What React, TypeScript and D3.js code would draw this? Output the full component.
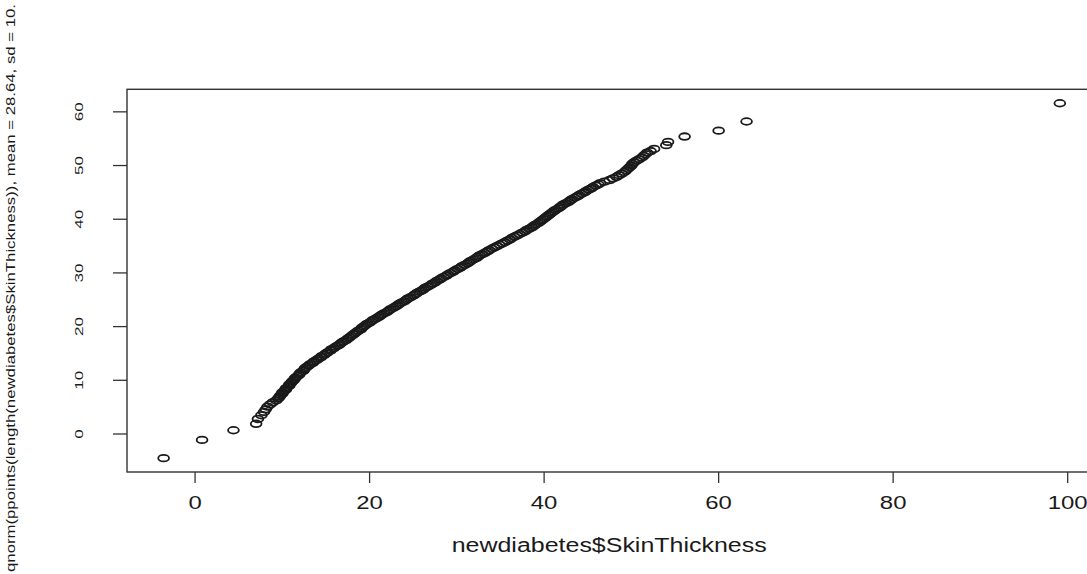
import React from "react";
import * as d3 from "d3";

// Sorted sample values (newdiabetes$SkinThickness)
const sampleX: number[] = [
  -3.6, 0.8, 4.4, 7.0, 7.2, 7.6, 7.9, 8.1, 8.3, 8.6, 8.9, 9.3, 9.5,
  9.6, 9.7, 9.8, 10.0, 10.0, 10.2, 10.4, 10.4, 10.6, 10.8, 10.8, 11.0, 11.1, 11.3,
  11.4, 11.5, 11.7, 11.9, 12.0, 12.1, 12.4, 12.5, 12.6, 12.8,
  13.0, 13.2, 13.5, 13.6, 13.9, 14.1, 14.4, 14.5, 14.8, 15.0,
  15.2, 15.5, 15.6, 15.9, 16.1, 16.4, 16.6, 16.8, 17.0, 17.3, 17.5, 17.7,
  17.9, 18.1, 18.3, 18.5, 18.7, 19.0, 19.1, 19.3, 19.5, 19.7,
  20.0, 20.2, 20.4, 20.7, 21.0, 21.2, 21.4, 21.7, 22.0, 22.2, 22.4, 22.7, 23.0, 23.2, 23.4,
  23.7, 24.0, 24.2, 24.4, 24.7, 25.0, 25.2, 25.4, 25.7, 26.0, 26.2, 26.4, 26.7, 27.0, 27.2,
  27.5, 27.7, 28.0, 28.2, 28.5, 28.8, 29.0,
  29.3, 29.6, 29.8, 30.1, 30.4, 30.6, 30.9,
  31.2, 31.4, 31.6, 31.9, 32.2, 32.4, 32.6, 32.9,
  33.2, 33.5, 33.7, 34.0, 34.3, 34.6,
  34.9, 35.2, 35.5, 35.8,
  36.1, 36.3, 36.6, 36.9, 37.2,
  37.5, 37.8, 38.0, 38.3, 38.6,
  38.8, 39.0, 39.3, 39.5, 39.7, 39.9, 40.1, 40.3,
  40.5, 40.7, 40.9, 41.1, 41.3, 41.6, 41.8,
  42.0, 42.2, 42.5, 42.8, 43.0, 43.2, 43.5,
  43.8, 44.0, 44.3, 44.6, 44.8, 45.1, 45.4, 45.6, 45.9, 46.2,
  46.4, 46.9, 47.5, 47.9, 48.3, 48.6, 48.9, 49.2, 49.4, 49.6, 49.8, 50.0,
  50.1, 50.3, 50.6, 50.9, 51.2, 51.4, 51.6, 51.8, 52.2, 52.6,
  54.0, 54.2, 56.1, 60.0, 63.2, 99.1,
];

// Theoretical normal quantiles (y axis)
const theoreticalY: number[] = [
  -4.5, -1.1, 0.7, 1.9, 2.8, 3.5, 4.1, 4.6, 5.1, 5.5, 5.9, 6.25, 6.6,
  6.75, 7.0, 7.25, 7.5, 7.75, 8.0, 8.25, 8.5, 8.75, 9.0, 9.25, 9.5, 9.75, 10.0,
  10.25, 10.5, 10.75, 11.0, 11.25, 11.5, 11.75, 12.0, 12.25, 12.5,
  12.75, 13.0, 13.25, 13.5, 13.75, 14.0, 14.25, 14.5, 14.75, 15.0,
  15.25, 15.5, 15.75, 16.0, 16.25, 16.5, 16.75, 17.0, 17.25, 17.5, 17.75, 18.0,
  18.25, 18.5, 18.75, 19.0, 19.25, 19.5, 19.75, 20.0, 20.25, 20.5,
  20.75, 21.0, 21.25, 21.5, 21.75, 22.0, 22.25, 22.5, 22.75, 23.0, 23.25, 23.5, 23.75, 24.0, 24.25,
  24.5, 24.75, 25.0, 25.25, 25.5, 25.75, 26.0, 26.25, 26.5, 26.75, 27.0, 27.25, 27.5, 27.75, 28.0,
  28.25, 28.5, 28.75, 29.0, 29.25, 29.5, 29.75,
  30.0, 30.25, 30.5, 30.75, 31.0, 31.25, 31.5,
  31.75, 32.0, 32.25, 32.5, 32.75, 33.0, 33.25, 33.5,
  33.75, 34.0, 34.25, 34.5, 34.75, 35.0,
  35.25, 35.5, 35.75, 36.0,
  36.25, 36.5, 36.75, 37.0, 37.25,
  37.5, 37.75, 38.0, 38.25, 38.5,
  38.75, 39.0, 39.25, 39.5, 39.75, 40.0, 40.25, 40.5,
  40.75, 41.0, 41.25, 41.5, 41.75, 42.0, 42.25,
  42.5, 42.75, 43.0, 43.25, 43.5, 43.75, 44.0,
  44.25, 44.5, 44.75, 45.0, 45.25, 45.5, 45.75, 46.0, 46.25, 46.5,
  46.7, 47.0, 47.3, 47.6, 47.9, 48.2, 48.5, 48.8, 49.1, 49.4, 49.7, 50.0,
  50.3, 50.6, 50.9, 51.2, 51.5, 51.8, 52.1, 52.4, 52.7, 53.1,
  53.8, 54.4, 55.4, 56.5, 58.2, 61.6,
];

const xTicks: number[] = [0, 20, 40, 60, 80, 100];
const yTicks: number[] = [0, 10, 20, 30, 40, 50, 60];
const xLimits: [number, number] = [-7.8, 102.9];
const yLimits: [number, number] = [-7.08, 64.2];

const xTitle = "newdiabetes$SkinThickness";
const yTitle =
  "qnorm(ppoints(length(newdiabetes$SkinThickness)), mean = 28.64, sd = 10.";

const W = 1087;
const H = 574;
const plot = { left: 127, right: 1093, top: 89.3, bottom: 472 };
const FONT = "'Liberation Sans', Arial, Helvetica, sans-serif";
const INK = "#1a1a1a";

export default function App() {
  const x = d3.scaleLinear().domain(xLimits).range([plot.left, plot.right]);
  const y = d3.scaleLinear().domain(yLimits).range([plot.bottom, plot.top]);
  const pts = sampleX.map((v, i) => ({ x: v, y: theoreticalY[i] }));

  return (
    <svg
      width={W}
      height={H}
      viewBox={`0 0 ${W} ${H}`}
      style={{ position: "absolute", left: 0, top: 0, background: "#fff" }}
    >
      <rect x={0} y={0} width={W} height={H} fill="#fff" />
      {/* plot box */}
      <rect
        x={plot.left}
        y={plot.top}
        width={plot.right - plot.left}
        height={plot.bottom - plot.top}
        fill="none"
        stroke="#333"
        strokeWidth={1.4}
      />
      {/* points */}
      <g fill="none" stroke={INK} strokeWidth={1.8}>
        {pts.map((p, i) => (
          <ellipse key={i} cx={x(p.x)} cy={y(p.y)} rx={5.4} ry={3.3} />
        ))}
      </g>
      {/* x axis */}
      <g>
        {xTicks.map((t) => (
          <g key={t}>
            <line
              x1={x(t)}
              x2={x(t)}
              y1={plot.bottom}
              y2={plot.bottom + 11}
              stroke="#333"
              strokeWidth={1.3}
            />
            <text
              x={x(t)}
              y={509}
              textAnchor="middle"
              fontFamily={FONT}
              fontSize={17.5}
              fill={INK}
              textLength={String(t).length * 13.3}
              lengthAdjust="spacingAndGlyphs"
            >
              {t}
            </text>
          </g>
        ))}
        <text
          x={609.2}
          y={551.7}
          textAnchor="middle"
          fontFamily={FONT}
          fontSize={20}
          fill={INK}
          textLength={315}
          lengthAdjust="spacingAndGlyphs"
        >
          {xTitle}
        </text>
      </g>
      {/* y axis */}
      <g>
        {yTicks.map((t) => (
          <g key={t}>
            <line
              x1={plot.left - 14}
              x2={plot.left}
              y1={y(t)}
              y2={y(t)}
              stroke="#333"
              strokeWidth={1.3}
            />
            <text
              transform={`translate(82.5,${y(t)}) rotate(-90)`}
              textAnchor="middle"
              fontFamily={FONT}
              fontSize={11}
              fill={INK}
              textLength={String(t).length * 9.5}
              lengthAdjust="spacingAndGlyphs"
            >
              {t}
            </text>
          </g>
        ))}
        <text
          transform={`translate(15,572) rotate(-90)`}
          textAnchor="start"
          fontFamily={FONT}
          fontSize={13}
          fill={INK}
          textLength={568}
          lengthAdjust="spacingAndGlyphs"
        >
          {yTitle}
        </text>
      </g>
    </svg>
  );
}
